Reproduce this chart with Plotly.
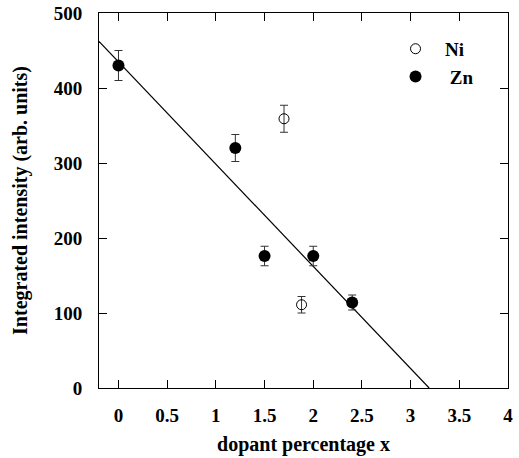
import plotly.graph_objects as go

# Data
zn_x = [0.0, 1.2, 1.5, 2.0, 2.4]
zn_y = [430, 320, 176, 176, 114]
zn_err = [20, 18, 13, 13, 10]

ni_x = [1.7, 1.88]
ni_y = [359, 111]
ni_err = [18, 11]

fit_x = [-0.2, 3.19]
fit_y = [462, 0]

x_ticks = [0, 0.5, 1, 1.5, 2, 2.5, 3, 3.5, 4]
x_ticklabels = ["0", "0.5", "1", "1.5", "2", "2.5", "3", "3.5", "4"]
y_ticks = [0, 100, 200, 300, 400, 500]

font_family = "Liberation Serif, DejaVu Serif, serif"

fig = go.Figure()
fig.add_trace(go.Scatter(x=fit_x, y=fit_y, mode="lines",
                         line=dict(color="black", width=1.2),
                         showlegend=False, hoverinfo="skip"))
fig.add_trace(go.Scatter(x=ni_x, y=ni_y, mode="markers", name="<b>  Ni</b>",
                         marker=dict(symbol="circle-open", size=10, color="black",
                                     line=dict(width=1, color="black")),
                         error_y=dict(type="data", array=ni_err, color="#333",
                                      thickness=1, width=4)))
fig.add_trace(go.Scatter(x=zn_x, y=zn_y, mode="markers", name="<b>   Zn</b>",
                         marker=dict(symbol="circle", size=12, color="black"),
                         error_y=dict(type="data", array=zn_err, color="#333",
                                      thickness=1, width=4)))

tick_font = dict(family=font_family, size=19, color="black", weight="bold")
title_font = dict(family=font_family, size=20, color="black", weight="bold")

axis_common = dict(showline=True, linecolor="black", linewidth=1, mirror="ticks",
                   ticks="inside", ticklen=8, tickcolor="black", tickwidth=1,
                   showgrid=False, zeroline=False, tickfont=tick_font,
                   automargin=False)

fig.update_xaxes(range=[-0.2, 4], tickvals=x_ticks, ticktext=x_ticklabels,
                 title=dict(text="dopant percentage x", font=title_font, standoff=12),
                 ticklabelstandoff=10, **axis_common)
fig.update_yaxes(range=[0, 500], tickvals=y_ticks,
                 title=dict(text="Integrated intensity (arb. units)", font=title_font,
                            standoff=20),
                 ticklabelstandoff=12, **axis_common)

fig.update_layout(
    width=519, height=458,
    margin=dict(l=99, r=11, t=13, b=70),
    paper_bgcolor="white", plot_bgcolor="white",
    font=dict(family=font_family, size=16, color="black"),
    legend=dict(x=0.725, y=0.955, xanchor="left", yanchor="top",
                bgcolor="rgba(0,0,0,0)",
                font=dict(family=font_family, size=19, color="black"),
                itemwidth=30, tracegroupgap=0),
)

fig.write_html("out.html")
